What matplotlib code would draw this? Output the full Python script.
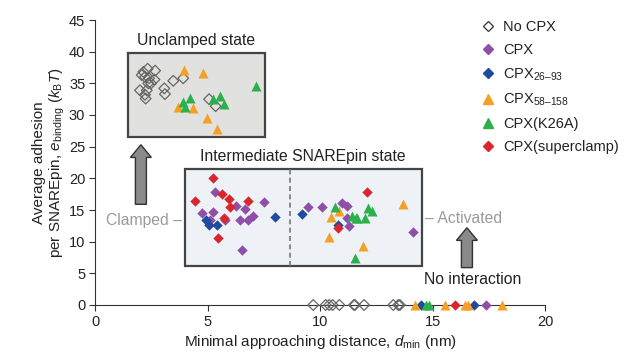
import matplotlib
matplotlib.use("Agg")
import matplotlib.pyplot as plt
from matplotlib.patches import Rectangle, FancyArrow
from matplotlib.lines import Line2D

plt.rcParams["font.family"] = ["Liberation Sans", "DejaVu Sans"]
plt.rcParams["mathtext.fontset"] = "custom"
plt.rcParams["mathtext.rm"] = "Liberation Sans"
plt.rcParams["mathtext.it"] = "Liberation Sans:italic"

# ---- data ----
no_cpx_x = [2.15, 2.34, 2.67, 2.08, 2.22, 2.40, 2.64, 2.37, 2.49, 2.00, 2.30, 2.22, 2.25,
            3.08, 3.11, 3.48, 3.92, 5.07, 5.36,
            9.70, 10.25, 10.41, 10.56, 10.86, 11.51, 11.55, 11.96, 13.26, 13.48, 13.55]
no_cpx_y = [36.8, 37.3, 37.0, 36.3, 36.0, 35.8, 35.6, 35.0, 35.0, 33.9, 33.9, 33.2, 32.6,
            34.2, 33.3, 35.4, 35.8, 32.5, 31.4,
            0, 0, 0, 0, 0, 0, 0, 0, 0, 0, 0]

cpx_x = [5.33, 7.51, 6.25, 6.67, 4.77, 5.23, 7.04, 6.44, 6.79, 5.78, 5.11, 6.52,
         9.45, 10.07, 10.96, 11.19, 11.19, 11.29, 14.15, 17.40]
cpx_y = [17.9, 16.2, 15.6, 15.1, 14.6, 14.7, 14.1, 13.5, 13.5, 13.4, 13.5, 8.7,
         15.5, 15.5, 16.1, 15.7, 13.7, 12.4, 11.6, 0]

cpx2693_x = [4.92, 5.07, 5.44, 8.00, 9.21, 10.79, 14.48, 16.85]
cpx2693_y = [13.5, 12.6, 12.6, 13.9, 14.3, 12.6, 0, 0]

cpx58158_x = [3.97, 4.81, 3.70, 4.37, 4.96, 5.41,
              10.84, 10.47, 10.40, 11.93, 13.67,
              14.22, 15.56, 16.44, 16.59, 18.07]
cpx58158_y = [37.1, 36.6, 31.2, 31.1, 29.6, 27.8,
              14.8, 13.9, 10.8, 9.3, 15.9,
              0, 0, 0, 0, 0]

k26a_x = [3.92, 4.22, 4.00, 5.26, 5.56, 5.75, 7.14,
          10.67, 11.42, 11.58, 11.63, 12.00, 12.15, 12.32, 11.56,
          14.70, 14.85]
k26a_y = [32.1, 32.7, 31.3, 32.6, 33.0, 31.8, 34.6,
          15.5, 14.1, 13.8, 13.7, 13.8, 15.3, 14.8, 7.5,
          0, 0]

superclamp_x = [5.26, 5.63, 5.96, 4.44, 6.79, 6.00, 5.75, 5.48, 12.07, 10.81, 16.02]
superclamp_y = [20.1, 17.5, 16.8, 16.4, 16.5, 15.4, 13.7, 10.6, 17.9, 12.1, 0]

C_PURPLE = "#8f4fa9"
C_BLUE = "#1f4aa0"
C_ORANGE = "#f5a024"
C_GREEN = "#2db04b"
C_RED = "#d8262c"
C_TEXT = "#222222"
C_GRAY = "#9a9a9a"

fig = plt.figure(figsize=(6.32, 3.56), dpi=100)
ax = fig.add_axes([95 / 632, 51 / 356, 450 / 632, 285 / 356])
ax.set_xlim(0, 20)
ax.set_ylim(0, 45)

# state boxes
ax.add_patch(Rectangle((1.47, 26.5), 6.09, 13.3, facecolor="#e1e1df",
                       edgecolor="#444444", lw=1.6, zorder=1))
ax.add_patch(Rectangle((4.0, 6.16), 10.52, 15.24, facecolor="#eef2f7",
                       edgecolor="#444444", lw=1.6, zorder=1))
ax.plot([8.67, 8.67], [6.16, 21.4], ls=(0, (3, 2)), color="#777777", lw=1.2, zorder=1.5)

# arrows
ax.add_patch(FancyArrow(2.04, 15.9, 0, 9.4, width=0.49, head_width=0.93,
                        head_length=2.0, length_includes_head=True,
                        facecolor="#8a8a8a", edgecolor="#333333", lw=1, zorder=2))
ax.add_patch(FancyArrow(16.53, 5.9, 0, 6.3, width=0.49, head_width=0.93,
                        head_length=2.0, length_includes_head=True,
                        facecolor="#8a8a8a", edgecolor="#333333", lw=1, zorder=2))

kw = dict(clip_on=False, zorder=4, linewidths=0)
ax.scatter(no_cpx_x, no_cpx_y, marker="D", s=30, facecolors="none",
           edgecolors="#666666", linewidths=0.9, clip_on=False, zorder=4)
ax.scatter(cpx_x, cpx_y, marker="D", s=28, color=C_PURPLE, **kw)
ax.scatter(cpx2693_x, cpx2693_y, marker="D", s=28, color=C_BLUE, **kw)
ax.scatter(cpx58158_x, cpx58158_y, marker="^", s=52, color=C_ORANGE, **kw)
ax.scatter(k26a_x, k26a_y, marker="^", s=52, color=C_GREEN, **kw)
ax.scatter(superclamp_x, superclamp_y, marker="D", s=28, color=C_RED, **kw)

# annotations
ax.text(4.5, 41.8, "Unclamped state", ha="center", va="center", fontsize=11.3, color=C_TEXT)
ax.text(9.24, 23.4, "Intermediate SNAREpin state", ha="center", va="center",
        fontsize=11.3, color=C_TEXT)
ax.text(3.85, 13.4, "Clamped \u2013", ha="right", va="center", fontsize=11.3, color=C_GRAY)
ax.text(14.68, 13.6, "\u2013 Activated", ha="left", va="center", fontsize=11.3, color=C_GRAY)
ax.text(16.8, 3.95, "No interaction", ha="center", va="center", fontsize=11.3, color=C_TEXT)

# axes styling
for s in ["top", "right"]:
    ax.spines[s].set_visible(False)
for s in ["left", "bottom"]:
    ax.spines[s].set_color("#333333")
    ax.spines[s].set_linewidth(0.8)
ax.set_xticks([0, 5, 10, 15, 20])
ax.set_yticks(range(0, 46, 5))
ax.tick_params(direction="out", length=4, width=0.8, color="#333333",
               labelsize=10.5, labelcolor=C_TEXT, pad=3)
ax.set_xlabel(r"Minimal approaching distance, $d_{\rm min}$ (nm)", fontsize=11,
              color=C_TEXT, labelpad=3)
ax.set_ylabel("Average adhesion\n" + r"per SNAREpin, $e_{\rm binding}$ ($k_{\rm B}T$)",
              fontsize=11, color=C_TEXT, labelpad=1.5, linespacing=1.1)

handles = [
    Line2D([], [], ls="", marker="D", ms=5, mfc="white", mec="#333333", mew=0.9),
    Line2D([], [], ls="", marker="D", ms=5, mfc=C_PURPLE, mec=C_PURPLE),
    Line2D([], [], ls="", marker="D", ms=5, mfc=C_BLUE, mec=C_BLUE),
    Line2D([], [], ls="", marker="^", ms=7, mfc=C_ORANGE, mec=C_ORANGE),
    Line2D([], [], ls="", marker="^", ms=7, mfc=C_GREEN, mec=C_GREEN),
    Line2D([], [], ls="", marker="D", ms=5, mfc=C_RED, mec=C_RED),
]
labels = ["No CPX", "CPX", "CPX$_{\\mathrm{26\u201393}}$", "CPX$_{\\mathrm{58\u2013158}}$",
          "CPX(K26A)", "CPX(superclamp)"]
leg = ax.legend(handles, labels, loc="upper left", bbox_to_anchor=(0.848, 1.02),
                frameon=False, fontsize=10.5, handlelength=0.8, handletextpad=0.6,
                labelspacing=0.62, borderaxespad=0)
for t in leg.get_texts():
    t.set_color(C_TEXT)

fig.savefig("out.png", dpi=100)
